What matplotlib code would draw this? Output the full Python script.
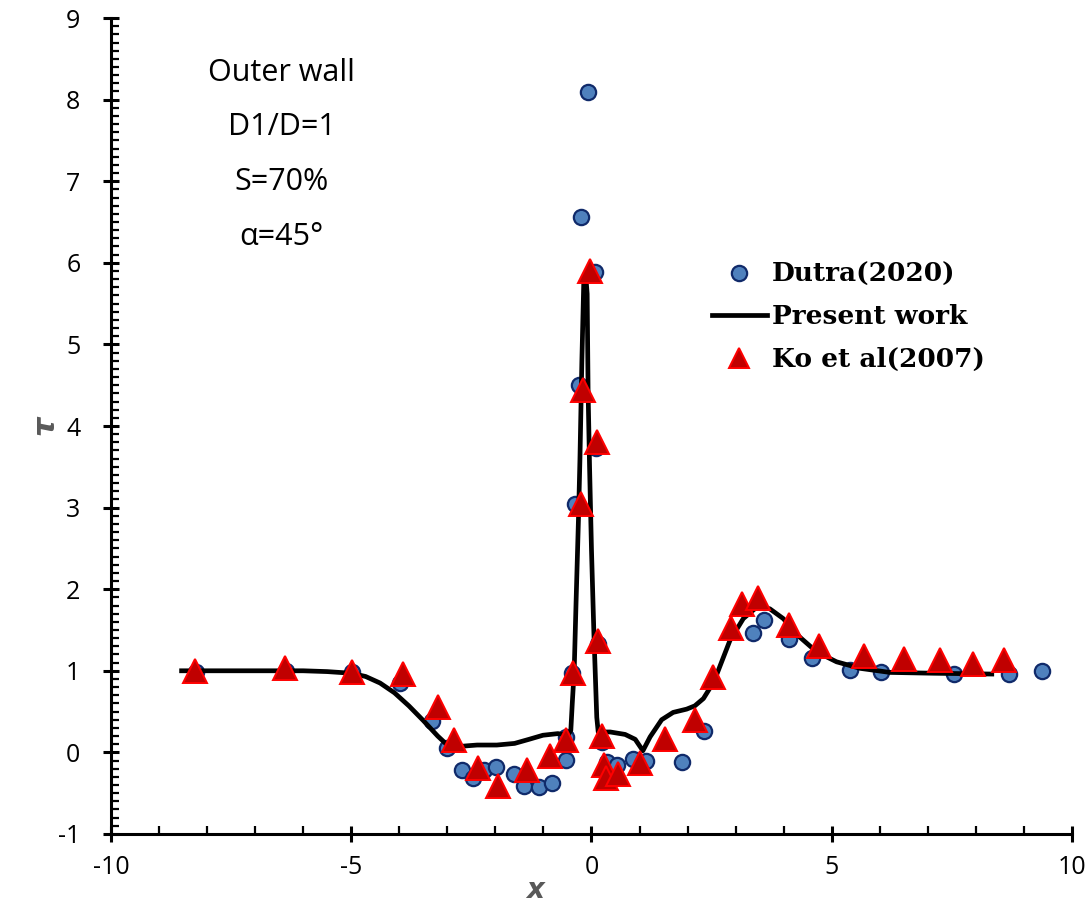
import matplotlib
matplotlib.use("Agg")
import matplotlib.pyplot as plt
from matplotlib.ticker import MultipleLocator

plt.rcParams["axes.unicode_minus"] = False

# Dutra (2020) - circles
dutra_x = [-8.23, -6.36, -4.98, -3.99, -3.32, -3.01, -2.70, -2.47, -2.23, -1.99, -1.61, -1.41,
           -1.09, -0.83, -0.54, -0.52, -0.41, -0.34, -0.25, -0.21, -0.08, 0.07, 0.09, 0.14,
           0.21, 0.32, 0.54, 0.86, 1.14, 1.88, 2.34, 3.37, 3.60, 4.10, 4.59, 5.38, 6.02,
           7.55, 8.69, 9.37]
dutra_y = [0.98, 1.00, 0.98, 0.85, 0.39, 0.05, -0.22, -0.31, -0.22, -0.18, -0.27, -0.41,
           -0.42, -0.38, -0.09, 0.19, 0.97, 3.05, 4.50, 6.56, 8.09, 5.89, 3.73, 1.33,
           0.13, -0.12, -0.16, -0.08, -0.10, -0.12, 0.26, 1.46, 1.62, 1.39, 1.16, 1.01, 0.98,
           0.96, 0.96, 1.00]

# Ko et al (2007) - triangles
ko_x = [-8.25, -6.38, -4.98, -3.93, -3.19, -2.86, -2.37, -1.95, -1.34, -0.86, -0.52, -0.38,
        -0.22, -0.18, -0.03, 0.11, 0.14, 0.21, 0.26, 0.30, 0.56, 1.01, 1.54, 2.15, 2.52,
        2.90, 3.14, 3.47, 4.10, 4.74, 5.68, 6.51, 7.25, 7.93, 8.59]
ko_y = [1.00, 1.03, 0.98, 0.96, 0.56, 0.15, -0.19, -0.41, -0.21, -0.04, 0.15, 0.97,
        3.04, 4.44, 5.90, 3.81, 1.37, 0.20, -0.15, -0.31, -0.27, -0.13, 0.16, 0.40, 0.92,
        1.53, 1.82, 1.89, 1.56, 1.30, 1.18, 1.15, 1.13, 1.08, 1.13]

# Present work - line
present_x = [-8.53, -7.0, -6.0, -5.5, -5.0, -4.7, -4.4, -4.1, -3.8, -3.50, -3.2, -3.0, -2.80,
             -2.60, -2.38, -1.97, -1.60, -1.30, -1.01, -0.70, -0.49, -0.43, -0.40, -0.36,
             -0.32, -0.27, -0.24, -0.20, -0.16, -0.12, -0.09, -0.07, -0.04, 0.0, 0.05, 0.11,
             0.14, 0.39, 0.70, 0.91, 1.07, 1.22, 1.46, 1.70, 1.98, 2.15, 2.33, 2.54, 2.61,
             2.88, 3.16, 3.44, 3.71, 3.99, 4.34, 4.69, 5.10, 5.59, 6.21, 7.11, 8.33]
present_y = [1.00, 1.00, 1.00, 0.99, 0.97, 0.93, 0.85, 0.73, 0.57, 0.39, 0.20, 0.09, 0.07,
             0.08, 0.09, 0.09, 0.11, 0.16, 0.21, 0.23, 0.21, 0.27, 0.60, 1.00,
             1.86, 2.88, 3.60, 4.80, 5.78, 5.85, 5.62, 4.40, 3.50, 2.48, 1.46, 0.43,
             0.25, 0.25, 0.22, 0.16, 0.02, 0.19, 0.40, 0.49, 0.53, 0.57, 0.66, 0.86, 0.96,
             1.37, 1.64, 1.78, 1.76, 1.64, 1.41, 1.23, 1.11, 1.03, 0.98, 0.97, 0.96]

info_lines = ["Outer wall", "D1/D=1", "S=70%", "α=45°"]

fig = plt.figure(figsize=(10.91, 9.06), dpi=100)
ax = fig.add_axes([0.1017, 0.0795, 0.8809, 0.9006])

ax.plot(dutra_x, dutra_y, "o", ms=11, mfc="#4F81BD", mec="#102A6A", mew=1.6,
        label="Dutra(2020)", zorder=2)
ax.plot(present_x, present_y, "-", color="black", lw=3.4, label="Present work", zorder=3)
ax.plot(ko_x, ko_y, "^", ms=17, mfc="#C00000", mec="#FF0000", mew=1.4,
        label="Ko et al(2007)", zorder=4)

ax.set_xlim(-10, 10)
ax.set_ylim(-1, 9)
ax.xaxis.set_major_locator(MultipleLocator(5))
ax.xaxis.set_minor_locator(MultipleLocator(1))
ax.yaxis.set_major_locator(MultipleLocator(1))
ax.yaxis.set_minor_locator(MultipleLocator(0.1))

for s in ["top", "right"]:
    ax.spines[s].set_visible(False)
for s in ["left", "bottom"]:
    ax.spines[s].set_linewidth(2.2)

ax.tick_params(which="major", direction="inout", length=12, width=2.2, labelsize=18)
ax.tick_params(axis="x", which="major", pad=9)
ax.tick_params(axis="y", which="major", pad=16)
ax.tick_params(which="minor", direction="in", length=6, width=1.6)
for lab in ax.get_xticklabels() + ax.get_yticklabels():
    lab.set_fontfamily("Open Sans")

ax.set_xlabel("x", fontsize=20, fontweight="bold", style="italic", color="#595959")
ax.set_ylabel("τ", fontsize=22, fontweight="bold", style="italic", color="#595959")
ax.xaxis.set_label_coords(0.441, -0.069)
ax.yaxis.set_label_coords(-0.069, 0.501)
ax.xaxis.label.set_va("center")
ax.yaxis.label.set_va("center")

for i, t in enumerate(info_lines):
    ax.text(-6.45, 8.33 - i * 0.67, t, fontsize=22, family="Open Sans",
            ha="center", va="center")

leg = ax.legend(loc="upper left", bbox_to_anchor=(0.614, 0.714), frameon=False,
                prop={"family": "DejaVu Serif", "weight": "bold", "size": 19},
                handlelength=2.1, handletextpad=0.2, labelspacing=0.66, borderaxespad=0)
for h in leg.legend_handles:
    if h.get_marker() == "o":
        h.set_markersize(11)
    elif h.get_marker() == "^":
        h.set_markersize(15)

fig.savefig("out.png", dpi=100)
